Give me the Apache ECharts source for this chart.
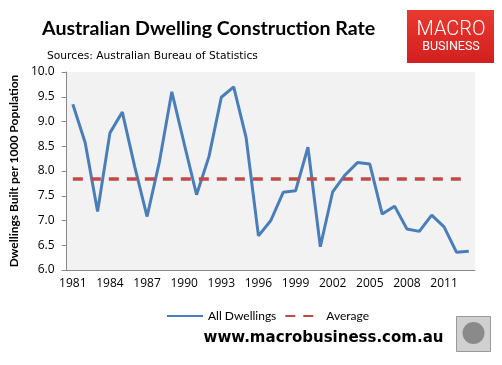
<!DOCTYPE html>
<html><head><meta charset="utf-8">
<script src="https://cdn.jsdelivr.net/npm/echarts@6/dist/echarts.min.js"></script>
<style>html,body{margin:0;padding:0;background:#fff}#c{width:502px;height:365px}</style>
</head><body><div id="c"></div>
<script>
const years = ['1981','1982','1983','1984','1985','1986','1987','1988','1989','1990','1991','1992','1993','1994','1995','1996','1997','1998','1999','2000','2001','2002','2003','2004','2005','2006','2007','2008','2009','2010','2011','2012','2013'];
const allDwellings = [9.35,8.57,7.18,8.77,9.19,8.09,7.08,8.19,9.60,8.55,7.52,8.29,9.49,9.70,8.68,6.69,7.00,7.57,7.60,8.48,6.47,7.58,7.92,8.17,8.14,7.13,7.29,6.83,6.78,7.11,6.87,6.36,6.38];
const averageValue = 7.84;
const average = years.map(() => averageValue);
const yTicks = ['6.0','6.5','7.0','7.5','8.0','8.5','9.0','9.5','10.0'];

const chart = echarts.init(document.getElementById('c'), null, {renderer:'canvas'});
const font = "'Open Sans', sans-serif";
chart.setOption({
  animation:false,
  textStyle:{fontFamily:font},
  title:[
    {text:'Australian Dwelling Construction Rate', left:37, top:14,
     textStyle:{fontSize:19.6, fontWeight:'bold', color:'#000', fontFamily:"Lato, sans-serif"}},
    {text:'Sources: Australian Bureau of Statistics', left:42, top:46,
     textStyle:{fontSize:10.7, fontWeight:'normal', color:'#000', fontFamily:"'DejaVu Sans', sans-serif"}}
  ],
  grid:{left:62, right:27, top:72, bottom:95, show:true, backgroundColor:'#f2f2f2', borderWidth:0},
  legend:{
    top:305, left:161, itemWidth:36, itemHeight:10, itemGap:8,
    itemStyle:{color:'transparent', borderWidth:0, opacity:0},
    textStyle:{fontSize:12, color:'#000', fontFamily:"Lato, sans-serif"},
    data:[{name:'All Dwellings'},{name:'Average'}]
  },
  xAxis:{
    type:'category', data:years, boundaryGap:true,
    axisLine:{lineStyle:{color:'#888', width:1}},
    axisTick:{interval:2, length:5, lineStyle:{color:'#888'}},
    axisLabel:{interval:2, color:'#000', fontSize:12, margin:8, fontFamily:font},
    splitLine:{show:false}
  },
  yAxis:{
    type:'value', min:6, max:10, interval:0.5,
    name:'Dwellings Built per 1000 Population', nameLocation:'middle', nameGap:43,
    nameTextStyle:{fontSize:12, fontWeight:'bold', color:'#000', fontFamily:"Lato, sans-serif"},
    axisLine:{show:true, lineStyle:{color:'#888'}},
    axisTick:{show:true, length:5, inside:false, lineStyle:{color:'#888'}},
    axisLabel:{color:'#000', fontSize:12, margin:12, fontFamily:font,
      formatter:(v)=>v.toFixed(1)},
    splitLine:{show:false}
  },
  series:[
    {name:'All Dwellings', type:'line', data:allDwellings, symbol:'none',
     lineStyle:{color:'#4a7ebb', width:3}, itemStyle:{color:'#4a7ebb'}},
    {name:'Average', type:'line', data:average, symbol:'none',
     lineStyle:{color:'#be4b48', width:3.5, type:[10,8]}, itemStyle:{color:'#be4b48'}}
  ],
  graphic:[
    {type:'rect', shape:{x:407, y:10, width:87, height:53},
     style:{fill:new echarts.graphic.LinearGradient(0,0,0,1,[{offset:0,color:'#ea3a30'},{offset:1,color:'#d11f1f'}])}},
    {type:'text', x:451, y:30, style:{text:'MACRO', fill:'#fff', font:"300 20px Roboto, sans-serif", textAlign:'center', textVerticalAlign:'middle'}},
    {type:'text', x:451, y:47, style:{text:'BUSINESS', fill:'#fff', font:"12.5px Roboto, sans-serif", textAlign:'center', textVerticalAlign:'middle'}},
    {type:'text', x:323.5, y:338, style:{text:'www.macrobusiness.com.au', fill:'#000', font:"bold 15px 'DejaVu Sans', Verdana, sans-serif", textAlign:'center', textVerticalAlign:'middle'}},
    {type:'rect', shape:{x:456.5, y:316.5, width:34, height:35}, style:{fill:'#d0d0d0', stroke:'#999', lineWidth:1}},
    {type:'circle', shape:{cx:473.5, cy:333, r:11}, style:{fill:'#8a8a8a'}}
  ]
});
</script></body></html>
